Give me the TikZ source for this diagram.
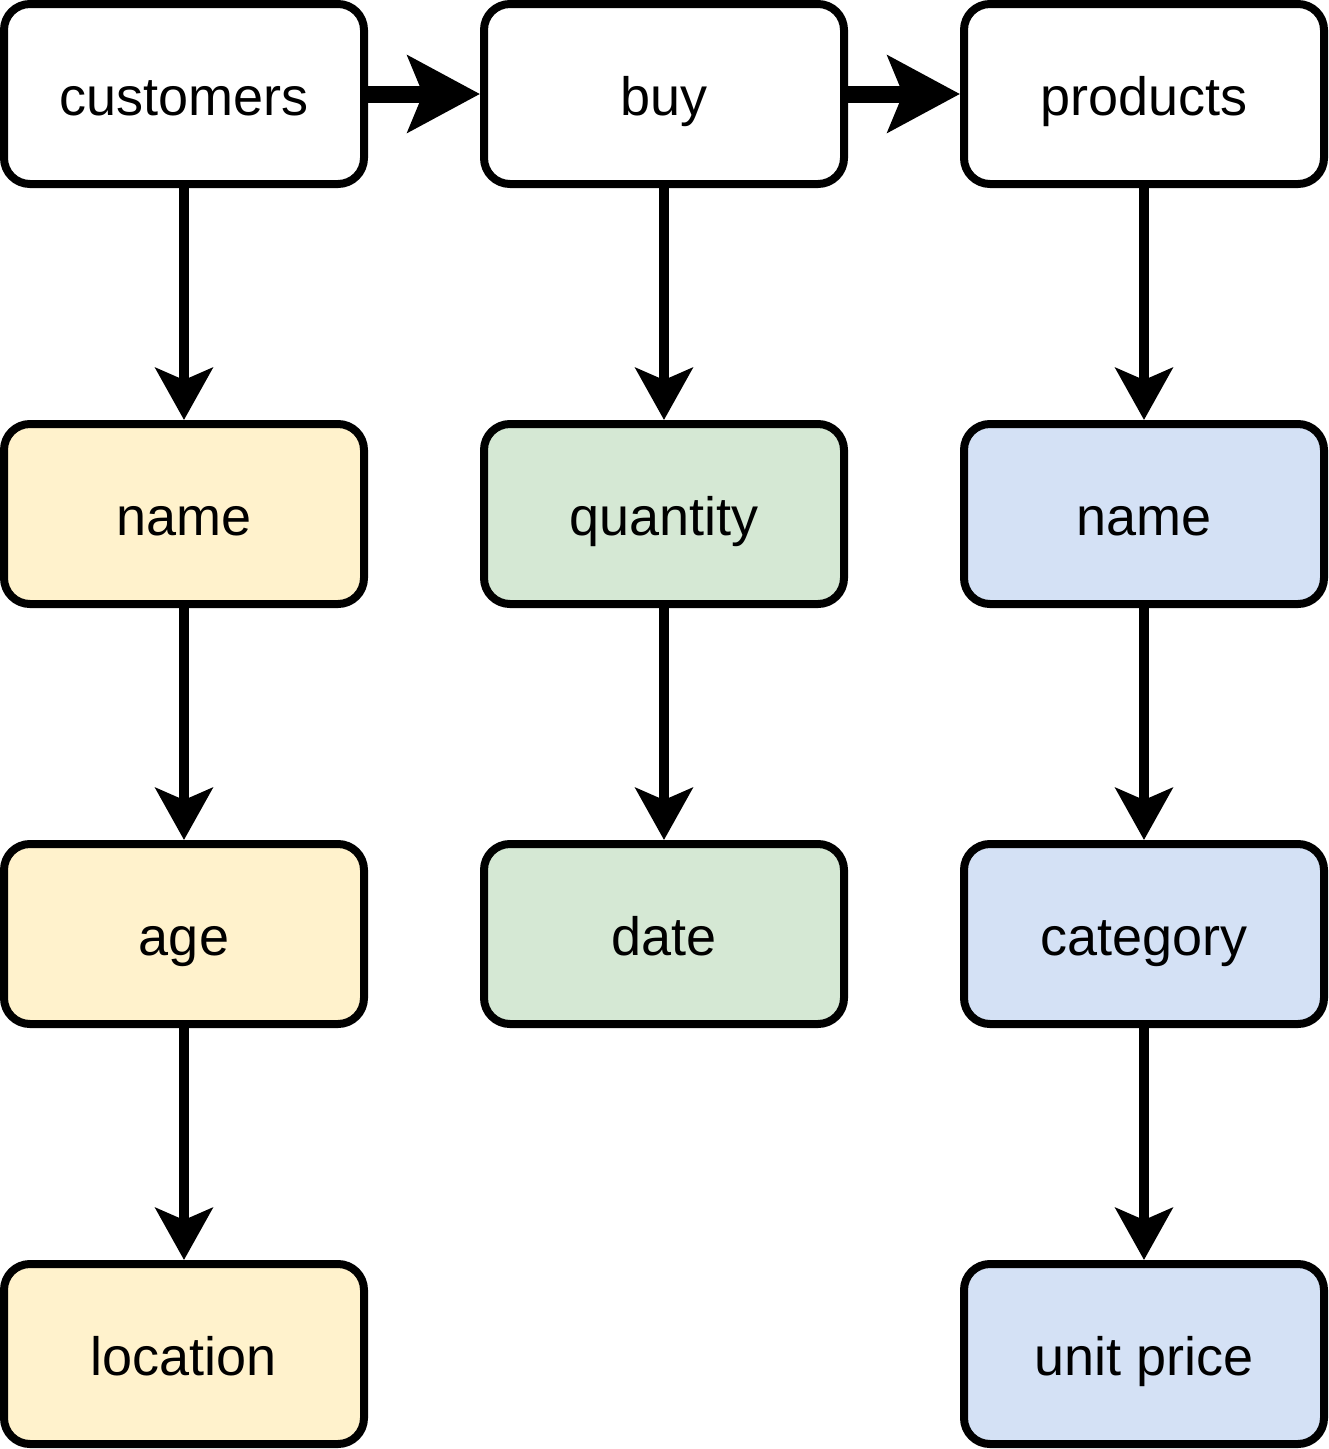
\documentclass[tikz,border=0pt]{standalone}
\usepackage{fontspec}
\setmainfont{Liberation Sans}
\usetikzlibrary{arrows.meta}
\definecolor{yfill}{HTML}{FFF2CC}
\definecolor{gfill}{HTML}{D5E8D4}
\definecolor{bfill}{HTML}{D4E1F5}
\begin{document}
\begin{tikzpicture}[x=1pt,y=-1pt,
  box/.style={draw=black, line width=8pt, rounded corners=26pt, minimum width=360pt, minimum height=180pt, inner sep=0pt, text height=50pt, text depth=8pt, font=\fontsize{54}{60}\selectfont},
  vlink/.style={line width=10pt, -{Stealth[length=52pt, width=57pt, inset=12pt]}},
  hlink/.style={line width=17pt, -{Stealth[length=72pt, width=76pt, inset=15pt]}}]
\useasboundingbox (0,0) rectangle (1329,1449);
\node[box, fill=white] (cust) at (184,94) {customers};
\node[box, fill=white] (buy) at (664,94) {buy};
\node[box, fill=white] (prod) at (1144,94) {products};
\node[box, fill=yfill] (cname) at (184,514) {name};
\node[box, fill=yfill] (age) at (184,934) {age};
\node[box, fill=yfill] (loc) at (184,1354) {location};
\node[box, fill=gfill] (qty) at (664,514) {quantity};
\node[box, fill=gfill] (date) at (664,934) {date};
\node[box, fill=bfill] (pname) at (1144,514) {name};
\node[box, fill=bfill] (cat) at (1144,934) {category};
\node[box, fill=bfill] (price) at (1144,1354) {unit price};
\draw[hlink] (cust) -- (buy);
\draw[hlink] (buy) -- (prod);
\draw[vlink] (cust) -- (cname);
\draw[vlink] (cname) -- (age);
\draw[vlink] (age) -- (loc);
\draw[vlink] (buy) -- (qty);
\draw[vlink] (qty) -- (date);
\draw[vlink] (prod) -- (pname);
\draw[vlink] (pname) -- (cat);
\draw[vlink] (cat) -- (price);
\end{tikzpicture}
\end{document}
